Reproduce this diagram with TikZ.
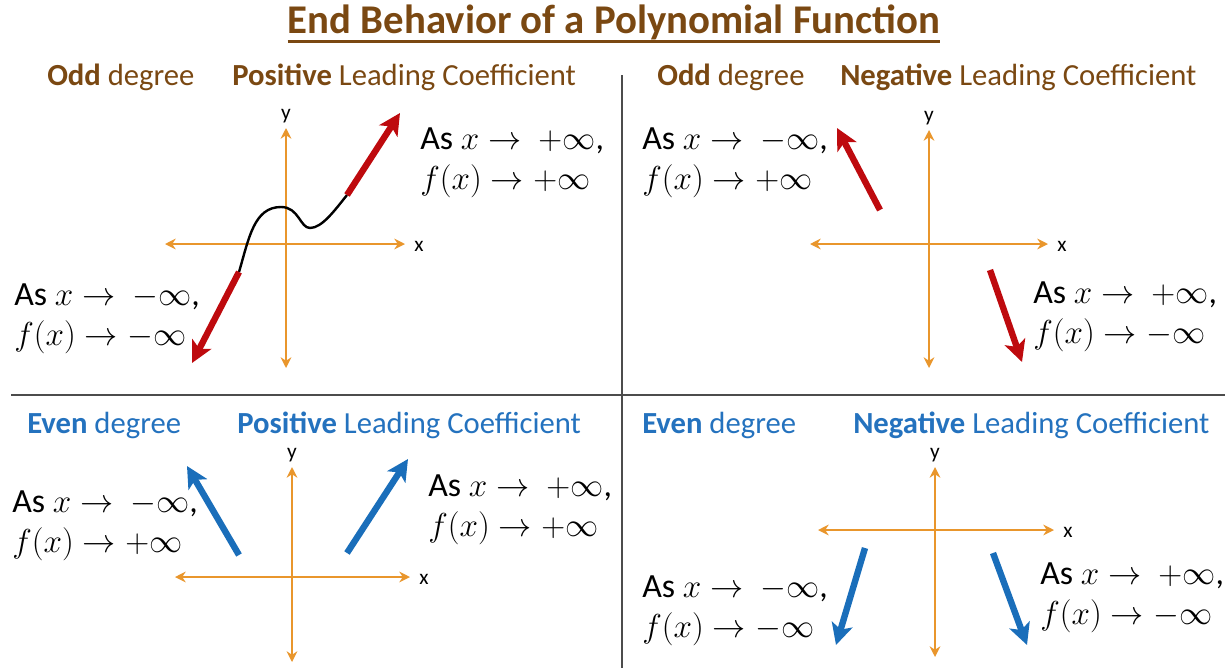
\documentclass[tikz,border=0pt]{standalone}
\usepackage{fontspec}
\setmainfont{Carlito}
\usetikzlibrary{arrows.meta}
\definecolor{titlebrown}{RGB}{122,72,18}
\definecolor{headblue}{RGB}{36,114,190}
\definecolor{axisorange}{RGB}{233,150,44}
\definecolor{endred}{RGB}{190,10,14}
\definecolor{endblue}{RGB}{26,110,186}
\begin{document}
\begin{tikzpicture}[
    x=0.75pt,y=-0.75pt,
    every node/.style={inner sep=0pt},
    heading/.style={anchor=west, font=\fontsize{23}{26}\selectfont},
    eqtext/.style={anchor=west, align=left, font=\fontsize{25.4}{30}\selectfont},
    axlabel/.style={font=\fontsize{16}{18}\selectfont},
    axis/.style={draw=axisorange, line width=2.2pt, {Stealth[length=8pt,width=8pt]}-{Stealth[length=8pt,width=8pt]}},
    endarrow/.style={line width=4.8pt, -{Stealth[length=16pt,width=16pt,inset=4pt]}},
    divider/.style={draw=black!70, line width=1.2pt}
]
    \useasboundingbox (0,0) rectangle (1232,668);

    % title
    \node[font=\fontsize{30.6}{33}\selectfont\bfseries, text=titlebrown] (title) at (614,22) {End Behavior of a Polynomial Function};
    \draw[titlebrown, line width=2.2pt] ([yshift=-1pt]title.south west) -- ([yshift=-1pt]title.south east);

    % dividers
    \draw[divider] (622,75) -- (622,668);
    \draw[divider] (11,395) -- (1225,395);

    % headings
    \node[heading, text=titlebrown] (oddA) at (47,77) {\textbf{Odd} degree};
    \node[heading, text=titlebrown] (posA) at (232,77) {\textbf{Positive} Leading Coefficient};
    \node[heading, text=titlebrown] (oddB) at (657,77) {\textbf{Odd} degree};
    \node[heading, text=titlebrown] (negB) at (840,77) {\textbf{Negative} Leading Coefficient};
    \node[heading, text=headblue] (evenC) at (27,425) {\textbf{Even} degree};
    \node[heading, text=headblue] (posC) at (237,425) {\textbf{Positive} Leading Coefficient};
    \node[heading, text=headblue] (evenD) at (642,425) {\textbf{Even} degree};
    \node[heading, text=headblue] (negD) at (853,425) {\textbf{Negative} Leading Coefficient};

    % axes: name/centre x/axis y/left/right/top/bottom
    \foreach \n/\cx/\cy/\l/\r/\t/\b in {A/286/244/165/405/128/368, B/929/244/810/1048/130/368,
                                        C/292/577/175/410/467/662, D/935/530/818/1054/467/657} {
        \draw[axis] (\l,\cy) -- (\r,\cy);
        \draw[axis] (\cx,\b) -- (\cx,\t);
        \node[axlabel] (y\n) at (\cx,\t-12) {y};
        \node[axlabel] (x\n) at (\r+14,\cy+2) {x};
    }

    % odd, positive
    \draw[line width=1.8pt] (239,272) .. controls (249,238) and (254,207) .. (281,207)
        .. controls (299,207) and (300,228) .. (310,228) .. controls (322,228) and (335,210) .. (347,195);
    \draw[endarrow, endred] (347,195) -- (400,113);
    \draw[endarrow, endred] (239,272) -- (192,363);
    \node[eqtext] (eqA1) at (420,163) {As $x\to\ +\infty$,\\$f(x)\to +\infty$};
    \node[eqtext] (eqA2) at (14,319) {As $x\to\ -\infty$,\\$f(x)\to -\infty$};

    % odd, negative
    \draw[endarrow, endred] (880,210) -- (837,128);
    \draw[endarrow, endred] (990,270) -- (1022,362);
    \node[eqtext] (eqB1) at (642,163) {As $x\to\ -\infty$,\\$f(x)\to +\infty$};
    \node[eqtext] (eqB2) at (1033,317) {As $x\to\ +\infty$,\\$f(x)\to -\infty$};

    % even, positive
    \draw[endarrow, endblue] (239,555) -- (187,466);
    \draw[endarrow, endblue] (347,553) -- (408,459);
    \node[eqtext] (eqC1) at (12,526) {As $x\to\ -\infty$,\\$f(x)\to +\infty$};
    \node[eqtext] (eqC2) at (428,510) {As $x\to\ +\infty$,\\$f(x)\to +\infty$};

    % even, negative
    \draw[endarrow, endblue] (865,548) -- (836,645);
    \draw[endarrow, endblue] (993,553) -- (1027,645);
    \node[eqtext] (eqD1) at (642,611) {As $x\to\ -\infty$,\\$f(x)\to -\infty$};
    \node[eqtext] (eqD2) at (1040,598) {As $x\to\ +\infty$,\\$f(x)\to -\infty$};
\end{tikzpicture}
\end{document}
